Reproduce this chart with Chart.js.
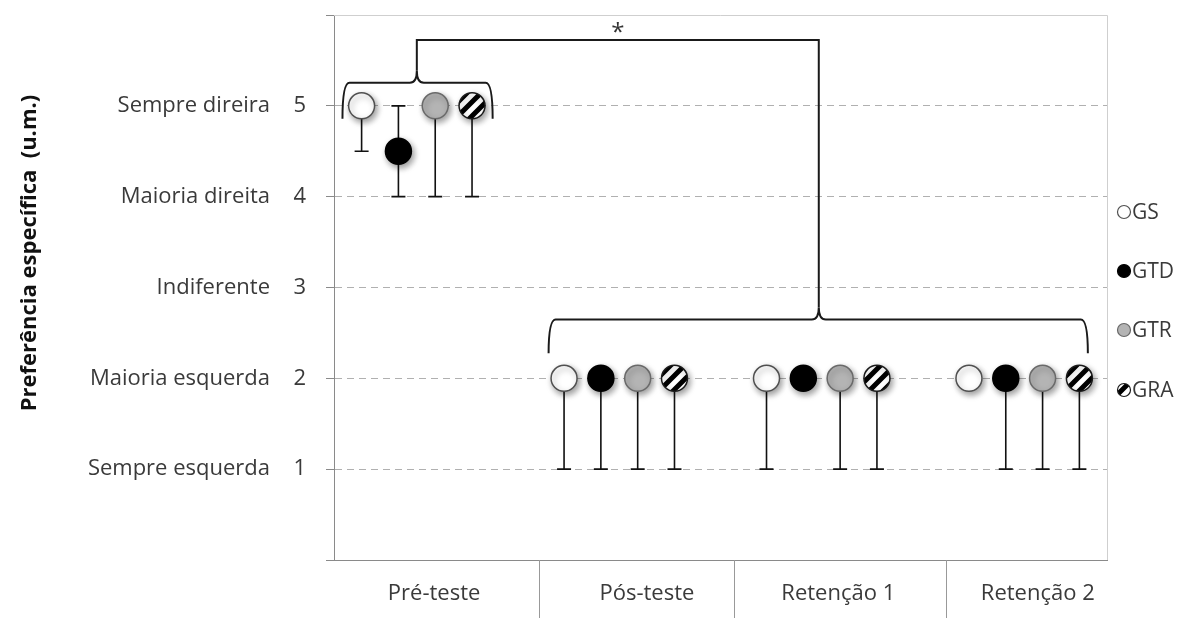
<!DOCTYPE html>
<html>
<head>
<meta charset="utf-8">
<script src="https://cdn.jsdelivr.net/npm/chart.js@4.4.0/dist/chart.umd.min.js"></script>
<style>
  html, body { margin: 0; padding: 0; background: #fff; }
  #wrap { width: 1198px; height: 618px; }
</style>
</head>
<body>
<div id="wrap"><canvas id="chart" width="1198" height="618"></canvas></div>
<script>
// Categories, groups and axis labels
const phases = ['Pré-teste', 'Pós-teste', 'Retenção 1', 'Retenção 2'];
const groups = ['GS', 'GTD', 'GTR', 'GRA'];
const yTickValues = [1, 2, 3, 4, 5];
const yTickNames = ['Sempre esquerda', 'Maioria esquerda', 'Indiferente', 'Maioria direita', 'Sempre direira'];

// Means per phase
const gsMean  = [5, 2, 2, 2];
const gtdMean = [4.5, 2, 2, 2];
const gtrMean = [5, 2, 2, 2];
const graMean = [5, 2, 2, 2];

// Error bar ends (null = no bar)
const gsLow  = [4.5, 1, 1, null];
const gtdLow = [4, 1, null, 1];
const gtrLow = [4, 1, 1, 1];
const graLow = [4, 1, 1, 1];
const gsHigh  = [null, null, null, null];
const gtdHigh = [5, null, null, null];
const gtrHigh = [null, null, null, null];
const graHigh = [null, null, null, null];

const means = [gsMean, gtdMean, gtrMean, graMean];
const lows = [gsLow, gtdLow, gtrLow, graLow];
const highs = [gsHigh, gtdHigh, gtrHigh, graHigh];

// Layout (x in axis units: phase * GROUP_STEP + group index)
const GROUP_STEP = 5.5;
const X_MIN = -0.75, X_MAX = 20.25;
const phaseLabelX = [1.97, 7.75, 12.95, 18.37];
const phaseDividerX = [4.82, 10.12, 15.88];
const FONT = '"Open Sans", Lato, sans-serif';
const TEXT = '#3a3a3a';

const canvas = document.getElementById('chart');
const ctx0 = canvas.getContext('2d');

// diagonal black/white stripes for GRA
function makeHatch() {
    const s = 14;
    const c = document.createElement('canvas');
    c.width = s; c.height = s;
    const g = c.getContext('2d');
    g.fillStyle = '#fff';
    g.fillRect(0, 0, s, s);
    g.strokeStyle = '#000';
    g.lineWidth = 5;
    g.beginPath();
    g.moveTo(-s / 2, s / 2); g.lineTo(s / 2, -s / 2);
    g.moveTo(0, s); g.lineTo(s, 0);
    g.moveTo(s / 2, s * 1.5); g.lineTo(s * 1.5, s / 2);
    g.stroke();
    return ctx0.createPattern(c, 'repeat');
}
const hatch = makeHatch();

const fills = ['#ffffff', '#000000', '#b4b4b4', hatch];
const borders = ['#505050', '#000000', '#6a6a6a', '#1a1a1a'];

const datasets = groups.map((name, gi) => ({
    label: name,
    data: means[gi].map((v, pi) => ({ x: pi * GROUP_STEP + gi, y: v })),
    backgroundColor: fills[gi],
    borderColor: borders[gi],
    borderWidth: 1.5,
    pointRadius: 13,
    pointHoverRadius: 13,
    showLine: false
}));

// Plugins
const markerShadow = {
    id: 'markerShadow',
    beforeDatasetDraw(chart) {
        const ctx = chart.ctx;
        ctx.save();
        ctx.shadowColor = 'rgba(0,0,0,0.4)';
        ctx.shadowBlur = 6;
        ctx.shadowOffsetX = 2;
        ctx.shadowOffsetY = 3;
    },
    afterDatasetDraw(chart) {
        chart.ctx.restore();
    }
};

const errorBars = {
    id: 'errorBars',
    beforeDatasetsDraw(chart) {
        const { ctx, chartArea, scales: { y } } = chart;
        // light frame top and right
        ctx.save();
        ctx.strokeStyle = '#cfcfcf';
        ctx.lineWidth = 1;
        ctx.beginPath();
        ctx.moveTo(chartArea.left, chartArea.top + 0.5);
        ctx.lineTo(chartArea.right + 0.5, chartArea.top + 0.5);
        ctx.lineTo(chartArea.right + 0.5, chartArea.bottom);
        ctx.stroke();

        ctx.strokeStyle = '#111';
        ctx.lineWidth = 1.6;
        const cap = 7;
        chart.data.datasets.forEach((ds, di) => {
            const meta = chart.getDatasetMeta(di);
            meta.data.forEach((pt, i) => {
                const lo = lows[di][i], hi = highs[di][i];
                if (lo == null && hi == null) return;
                const top = hi == null ? pt.y : y.getPixelForValue(hi);
                const bot = lo == null ? pt.y : y.getPixelForValue(lo);
                ctx.beginPath();
                ctx.moveTo(pt.x, top);
                ctx.lineTo(pt.x, bot);
                if (lo != null) { ctx.moveTo(pt.x - cap, bot); ctx.lineTo(pt.x + cap, bot); }
                if (hi != null) { ctx.moveTo(pt.x - cap, top); ctx.lineTo(pt.x + cap, top); }
                ctx.stroke();
            });
        });
        ctx.restore();
    }
};

function drawBrace(ctx, x0, x1, xm, yLine, yEnd, yTip) {
    const r = 7;
    ctx.beginPath();
    ctx.moveTo(x0, yEnd);
    ctx.quadraticCurveTo(x0, yLine, x0 + r, yLine);
    ctx.lineTo(xm - r, yLine);
    ctx.quadraticCurveTo(xm, yLine, xm, yTip);
    ctx.quadraticCurveTo(xm, yLine, xm + r, yLine);
    ctx.lineTo(x1 - r, yLine);
    ctx.quadraticCurveTo(x1, yLine, x1, yEnd);
    ctx.stroke();
}

const annotations = {
    id: 'annotations',
    afterDatasetsDraw(chart) {
        const { ctx, chartArea, scales: { x, y } } = chart;
        ctx.save();
        ctx.strokeStyle = '#1a1a1a';
        ctx.lineWidth = 2;
        // brace over pre-test
        const t = { x0: x.getPixelForValue(-0.52), x1: x.getPixelForValue(3.56), xm: x.getPixelForValue(1.5),
                    line: y.getPixelForValue(5.253), end: y.getPixelForValue(4.857), tip: y.getPixelForValue(5.385) };
        drawBrace(ctx, t.x0, t.x1, t.xm, t.line, t.end, t.tip);
        // brace over post-test and retention
        const b = { x0: x.getPixelForValue(5.08), x1: x.getPixelForValue(19.73), xm: x.getPixelForValue(12.42),
                    line: y.getPixelForValue(2.648), end: y.getPixelForValue(2.275), tip: y.getPixelForValue(2.78) };
        drawBrace(ctx, b.x0, b.x1, b.xm, b.line, b.end, b.tip);
        // connector
        const yTop = y.getPixelForValue(5.725);
        ctx.beginPath();
        ctx.moveTo(t.xm, t.tip);
        ctx.lineTo(t.xm, yTop);
        ctx.lineTo(b.xm, yTop);
        ctx.lineTo(b.xm, b.tip);
        ctx.stroke();
        // significance mark
        ctx.fillStyle = '#333';
        ctx.font = '24px ' + FONT;
        ctx.textAlign = 'center';
        ctx.textBaseline = 'middle';
        ctx.fillText('*', x.getPixelForValue(6.96), y.getPixelForValue(5.857) + 5);

        // phase table under the axis
        ctx.fillStyle = TEXT;
        ctx.font = '22px ' + FONT;
        phases.forEach((p, i) => ctx.fillText(p, x.getPixelForValue(phaseLabelX[i]), chartArea.bottom + 34));
        ctx.strokeStyle = '#999';
        ctx.lineWidth = 1;
        phaseDividerX.forEach(v => {
            const px = Math.round(x.getPixelForValue(v)) + 0.5;
            ctx.beginPath();
            ctx.moveTo(px, chartArea.bottom);
            ctx.lineTo(px, chart.height);
            ctx.stroke();
        });

        // legend
        const legendY = [212, 271, 330, 390];
        ctx.textAlign = 'left';
        ctx.font = '21px ' + FONT;
        groups.forEach((g, i) => {
            const cx = chartArea.right + 17, cy = legendY[i];
            ctx.beginPath();
            ctx.arc(cx, cy, 6.5, 0, Math.PI * 2);
            ctx.fillStyle = fills[i];
            ctx.fill();
            ctx.lineWidth = 1.2;
            ctx.strokeStyle = borders[i];
            ctx.stroke();
            ctx.fillStyle = TEXT;
            ctx.fillText(g, cx + 8, cy + 1);
        });

        // y title
        ctx.save();
        ctx.translate(30, 253);
        ctx.rotate(-Math.PI / 2);
        ctx.font = 'bold 22px ' + FONT;
        ctx.fillStyle = '#111';
        ctx.textAlign = 'center';
        ctx.fillText('Preferência específica  (u.m.)', 0, 0);
        ctx.restore();
        ctx.restore();
    }
};

function noPad(scale) {
    scale.paddingTop = 0;
    scale.paddingBottom = 0;
}

new Chart(canvas, {
    type: 'scatter',
    data: { datasets },
    options: {
        responsive: false,
        animation: false,
        events: [],
        layout: { padding: { top: 15, right: 91, left: 0, bottom: 0 } },
        plugins: { legend: { display: false }, tooltip: { enabled: false } },
        scales: {
            x: {
                type: 'linear',
                min: X_MIN, max: X_MAX,
                ticks: { display: false },
                grid: { display: false, drawTicks: false },
                border: { color: '#8a8a8a', width: 1 },
                afterFit(scale) { scale.height = 58; scale.paddingLeft = 0; scale.paddingRight = 0; }
            },
            y: {
                position: 'left',
                min: 0, max: 6,
                ticks: {
                    stepSize: 1,
                    padding: 20,
                    color: TEXT,
                    font: { family: FONT, size: 22 },
                    callback: v => yTickValues.includes(v) ? String(v) : ''
                },
                grid: {
                    color: c => yTickValues.includes(c.tick && c.tick.value) ? '#b0b0b0' : 'rgba(0,0,0,0)',
                    tickColor: '#8a8a8a',
                    tickLength: 8,
                    lineWidth: 1
                },
                border: { color: '#8a8a8a', width: 1, dash: [7, 5] },
                afterFit(scale) { scale.width = 64; noPad(scale); }
            },
            yNames: {
                position: 'left',
                min: 0, max: 6,
                ticks: {
                    stepSize: 1,
                    padding: 0,
                    color: TEXT,
                    font: { family: FONT, size: 22 },
                    callback: v => {
                        const i = yTickValues.indexOf(v);
                        return i >= 0 ? yTickNames[i] : '';
                    }
                },
                grid: { display: false, drawTicks: false },
                border: { display: false },
                afterFit(scale) { scale.width = 270; noPad(scale); }
            }
        }
    },
    plugins: [markerShadow, errorBars, annotations]
});
</script>
</body>
</html>
